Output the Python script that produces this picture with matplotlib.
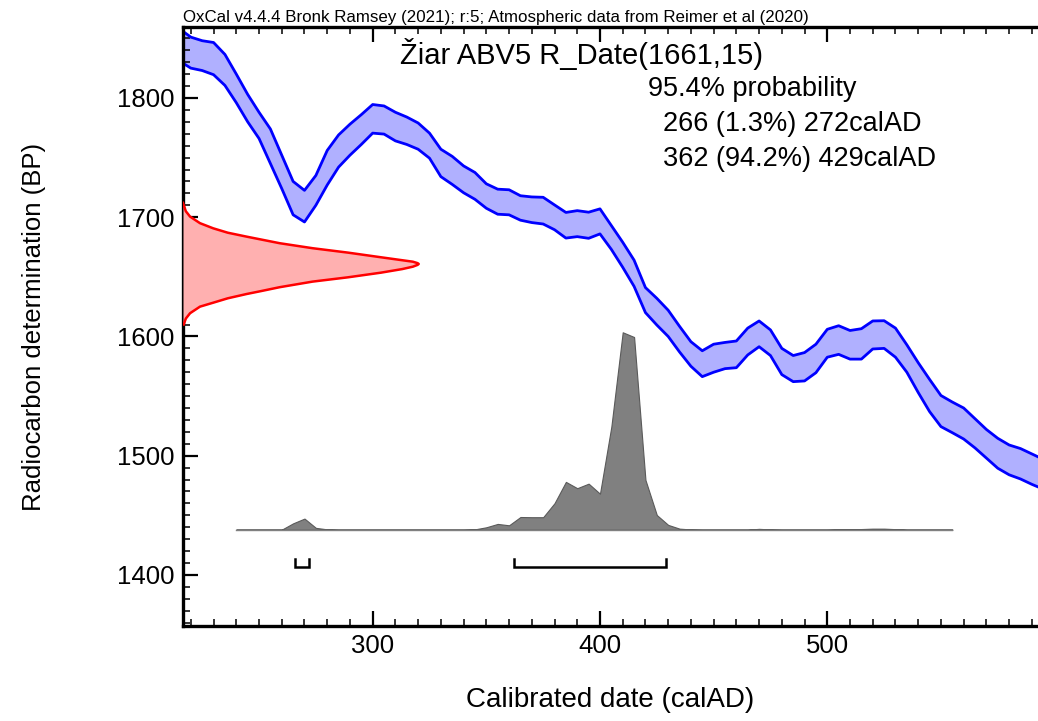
import numpy as np
import matplotlib
matplotlib.use("Agg")
import matplotlib.pyplot as plt
from matplotlib.ticker import MultipleLocator

plt.rcParams['font.family'] = ['Liberation Sans', 'DejaVu Sans']

# calibration curve (IntCal20), 5-year grid, upper / lower edge of the band (BP)
cal_x = list(range(215, 600, 5))
cal_upper = [1858, 1851, 1848, 1846.5, 1836.5, 1820, 1803, 1788, 1774, 1752,
             1730, 1722.5, 1735, 1756, 1769, 1778, 1786, 1794.5, 1793.3, 1788,
             1784, 1779, 1770.5, 1757, 1751, 1743, 1737.5, 1728, 1723.5, 1723,
             1718, 1717, 1716.7, 1710.3, 1704, 1705.5, 1704.2, 1707, 1693, 1679,
             1664, 1641, 1632, 1622, 1608.5, 1595.6, 1588, 1593.5, 1595, 1596.2,
             1607, 1613, 1605.5, 1590, 1584, 1586.5, 1593.5, 1606, 1609, 1605,
             1606.5, 1613, 1613.2, 1607, 1593, 1578, 1564, 1550.5, 1545, 1540,
             1531, 1522, 1514.6, 1509, 1506, 1501.5, 1497]
cal_lower = [1831, 1825, 1823, 1819.5, 1810.5, 1796, 1780, 1766, 1745, 1724,
             1702, 1696, 1710, 1727, 1742, 1752, 1761, 1770.5, 1769.7, 1764,
             1761, 1757, 1749.5, 1734, 1727.5, 1720.5, 1715, 1707.5, 1702.5, 1702,
             1697.5, 1695.5, 1694.3, 1689.5, 1682.5, 1683.7, 1682.3, 1686, 1673, 1658,
             1642, 1620, 1609.6, 1600, 1587, 1575, 1566.3, 1570, 1573, 1573.8,
             1584.5, 1591.4, 1584, 1568, 1562.1, 1562.7, 1569.6, 1582.6, 1585, 1581,
             1581, 1589.5, 1590, 1582.6, 1570, 1553, 1537, 1524.4, 1519.3, 1514,
             1506.5, 1498, 1489.5, 1484, 1480.5, 1476, 1472]

# radiocarbon measurement R_Date(1661,15), relative probability by BP
r_bp = [1712, 1705, 1700.5, 1695, 1690.7, 1687, 1683.7, 1678.2, 1674, 1670.3,
        1666.4, 1664.2, 1662.7, 1661.5, 1660.8, 1660, 1658.5, 1656.5, 1653.5,
        1649.6, 1646, 1641.3, 1638, 1635.6, 1632, 1628.3, 1625, 1619.5, 1615, 1610]
r_prob = [0, 0.012, 0.03, 0.072, 0.128, 0.19, 0.27, 0.41, 0.55, 0.70,
          0.84, 0.92, 0.975, 0.995, 1.0, 0.995, 0.975, 0.93, 0.84,
          0.70, 0.55, 0.41, 0.33, 0.27, 0.19, 0.128, 0.072, 0.03, 0.012, 0.003]

# calibrated date distribution, relative probability
post_x = list(range(240, 560, 5))
post_prob = [0, 0, 0, 0, 0, 0.032, 0.056, 0.009, 0.0015,
             0, 0, 0, 0, 0, 0, 0, 0, 0, 0, 0, 0,
             0.0015, 0.012, 0.029, 0.022, 0.064, 0.063, 0.063, 0.134, 0.242, 0.210,
             0.233, 0.182, 0.522, 1.0, 0.976, 0.252, 0.074, 0.024, 0.005, 0.001,
             0, 0, 0, 0, 0, 0.004, 0.001, 0, 0, 0, 0, 0,
             0.0015, 0.002, 0.003, 0.005, 0.005, 0.0025, 0, 0, 0, 0, 0]

# 95.4% ranges
ranges = [(266, 272, 1.3), (362, 429, 94.2)]

xmin, xmax = 216.55, 592.7
ymin, ymax = 1357.2, 1859.5

fig = plt.figure(figsize=(10.38, 7.21), dpi=100)
ax = fig.add_axes([183/1038, 95/721, 855/1038, 599/721])

# calibration curve band
ax.fill_between(cal_x, cal_lower, cal_upper, color='#b0b0ff', lw=0, zorder=1)
ax.plot(cal_x, cal_upper, color='#0000ff', lw=2, zorder=2)
ax.plot(cal_x, cal_lower, color='#0000ff', lw=2, zorder=2)

# measurement on the y axis
r_w = 103.7
rx = xmin + np.array(r_prob) * r_w
ax.fill_betweenx(r_bp, xmin, rx, color='#ffb0b0', lw=0, zorder=3)
ax.plot(rx, r_bp, color='#ff0000', lw=1.8, zorder=4)

# calibrated distribution
base = 1438
h = 165.5
py = base + np.array(post_prob) * h
ax.fill_between(post_x, base, py, color='#808080', edgecolor='#5a5a5a', lw=0.8, zorder=3)
ax.plot([post_x[0], post_x[-1]], [base, base], color='#808080', lw=1, zorder=3)

# range brackets
for lo, hi, p in ranges:
    ax.plot([lo, lo, hi, hi], [1413.4, 1406.5, 1406.5, 1413.4], color='black',
            lw=1.8, solid_joinstyle='miter', zorder=5)

ax.set_xlim(xmin, xmax)
ax.set_ylim(ymin, ymax)

ax.xaxis.set_major_locator(MultipleLocator(100))
ax.xaxis.set_minor_locator(MultipleLocator(10))
ax.yaxis.set_major_locator(MultipleLocator(100))
ax.yaxis.set_minor_locator(MultipleLocator(10))
ax.tick_params(which='both', direction='in', top=True, right=False)
ax.tick_params(which='major', length=10.5, width=1.6, labelsize=18.5, pad=6)
ax.tick_params(which='minor', length=5, width=1.1)

for s in ['left', 'bottom', 'top']:
    ax.spines[s].set_linewidth(2.4)
ax.spines['right'].set_visible(False)

ax.set_xlabel('Calibrated date (calAD)', fontsize=20)
ax.xaxis.set_label_coords(0.5, -(700 - 626) / 599)
ax.xaxis.label.set_verticalalignment('center')
ax.set_ylabel('Radiocarbon determination (BP)', fontsize=18.5)
ax.yaxis.set_label_coords(-(183 - 34) / 855, 0.5)
ax.yaxis.label.set_verticalalignment('center')

W, H = 1038, 721
fig.text(183/W, 1 - 22/H,
         'OxCal v4.4.4 Bronk Ramsey (2021); r:5; Atmospheric data from Reimer et al (2020)',
         fontsize=12.2, ha='left', va='baseline')
fig.text(582/W, 1 - 64/H, 'Žiar ABV5 R_Date(1661,15)', fontsize=21,
         ha='center', va='baseline')
fig.text(648/W, 1 - 96.5/H, '95.4% probability', fontsize=19.5, ha='left', va='baseline')
rows = [131, 166.5]
for (lo, hi, p), yy in zip(ranges, rows):
    fig.text(663/W, 1 - yy/H, f'{lo} ({p}%) {hi}calAD', fontsize=19.5,
             ha='left', va='baseline')

fig.savefig('out.png', dpi=100)
